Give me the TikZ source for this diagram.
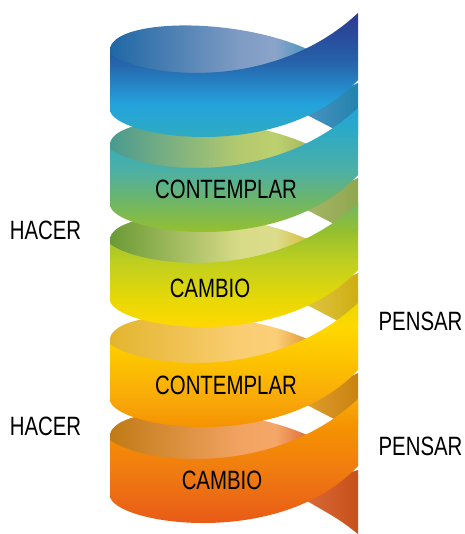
\documentclass[tikz,border=0pt]{standalone}
\usepackage{fontspec}
\newfontfamily\lblfont[FakeStretch=.77]{Liberation Sans}
\definecolor{r0}{HTML}{2B3990}\definecolor{r1}{HTML}{2660A8}\definecolor{r2}{HTML}{23A3DD}
\definecolor{r3}{HTML}{2BA9C8}\definecolor{r4}{HTML}{4CB0A5}\definecolor{r5}{HTML}{6CB56B}
\definecolor{r6}{HTML}{95C02E}\definecolor{r7}{HTML}{BFCF20}\definecolor{r8}{HTML}{E8D805}
\definecolor{r9}{HTML}{FFD800}\definecolor{r10}{HTML}{FDC300}\definecolor{r11}{HTML}{F8A80A}
\definecolor{r12}{HTML}{F59200}\definecolor{r13}{HTML}{F07C10}\definecolor{r14}{HTML}{E85A18}
% ribbon colours along the page height: stop = 75 - 50*y/534
\pgfdeclareverticalshading{ribbon}{100bp}{%
color(0bp)=(r14);color(26bp)=(r14);color(31bp)=(r13);color(35bp)=(r12);color(37.5bp)=(r11);
color(41.3bp)=(r10);color(44.4bp)=(r9);color(46.9bp)=(r8);color(50.5bp)=(r7);color(53.3bp)=(r6);
color(56.3bp)=(r5);color(59.1bp)=(r4);color(63bp)=(r3);color(65.2bp)=(r2);color(69.4bp)=(r1);
color(73.8bp)=(r0);color(100bp)=(r0)}
\newcommand{\declareinner}[5]{%
 \definecolor{#1a}{HTML}{#2}\definecolor{#1b}{HTML}{#3}\definecolor{#1c}{HTML}{#4}\definecolor{#1d}{HTML}{#5}%
 \pgfdeclarehorizontalshading{#1}{100bp}{color(0bp)=(#1a);color(25bp)=(#1a);color(58bp)=(#1b);color(67bp)=(#1c);color(75bp)=(#1d);color(100bp)=(#1d)}}
\declareinner{innerA}{1F67A5}{7F9CC4}{8AA3C9}{4A95C0}
\declareinner{innerB}{4A9A90}{B4C96E}{BDD06E}{A8B860}
\declareinner{innerC}{6A9A35}{D8DB88}{DCDC8C}{D8C040}
\declareinner{innerD}{E3B52E}{FACD72}{FBCF78}{E69A38}
\declareinner{innerE}{C07A15}{F2A362}{F5A768}{E0703A}
\newcommand{\ribbonstrip}[3]{%
 \shade[left color=#2,right color=#3,shading angle=90]
  (300,110+#1) -- (358,83+#1) -- (358,135+#1) -- (345,135+#1) -- (336,130+#1) -- (307,115+#1) -- cycle;}
\newcommand{\ribbonturn}[2]{%
 \shade[shading=#2]
  (110,50+#1) .. controls (110,20+#1) and (230,15+#1) .. (307,49+#1)
  -- (307,60+#1) -- (200,95+#1) -- (110,70+#1) -- cycle;
 \begin{scope}
  \clip (110,54+#1) .. controls (138,76+#1) and (270,95+#1) .. (358,13+#1)
   -- (358,80+#1) .. controls (278,165+#1) and (112,137+#1) .. (110,110+#1) -- cycle;
  \shade[shading=ribbon] (0,0) rectangle (464,534);
 \end{scope}}
\tikzset{lbl/.style={font=\lblfont\fontsize{26.5}{30}\selectfont,text=black,inner sep=0pt}}
\begin{document}
\begin{tikzpicture}[x=1pt,y=-1pt]
\useasboundingbox (0,0) rectangle (464,534);
\definecolor{sa}{HTML}{4F93C2}\definecolor{sb}{HTML}{2284AD}
\definecolor{sc}{HTML}{A9B56A}\definecolor{sd}{HTML}{8FA84E}
\definecolor{se}{HTML}{E0C64A}\definecolor{sf}{HTML}{CFAE10}
\definecolor{sg}{HTML}{E2A030}\definecolor{sh}{HTML}{C8820F}
\definecolor{si}{HTML}{DC7040}\definecolor{sj}{HTML}{C8501A}
\ribbonstrip{0}{sa}{sb}
\ribbonstrip{95}{sc}{sd}
\ribbonstrip{190}{se}{sf}
\ribbonstrip{290}{sg}{sh}
\shade[left color=si,right color=sj,shading angle=90]
  (290,490) -- (358,470) -- (358,534) .. controls (340,520) .. (307,501) -- cycle;
\ribbonturn{386}{innerE}
\ribbonturn{290}{innerD}
\ribbonturn{190}{innerC}
\ribbonturn{95}{innerB}
\ribbonturn{0}{innerA}
\node[lbl] (t1) at (226,189) {CONTEMPLAR};
\node[lbl] (t2) at (210,288) {CAMBIO};
\node[lbl] (t3) at (226,385) {CONTEMPLAR};
\node[lbl] (t4) at (222,480) {CAMBIO};
\node[lbl] (h1) at (45.5,230) {HACER};
\node[lbl] (h2) at (45.5,426) {HACER};
\node[lbl] (p1) at (420.5,321) {PENSAR};
\node[lbl] (p2) at (420.5,446) {PENSAR};
\end{tikzpicture}
\end{document}
